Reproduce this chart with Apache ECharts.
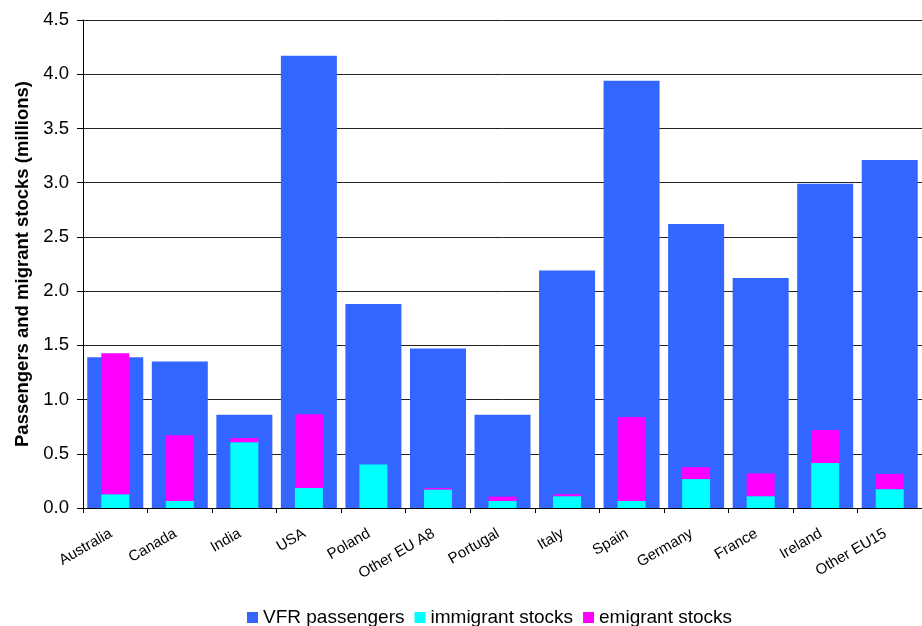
<!DOCTYPE html>
<html>
<head>
<meta charset="utf-8">
<script src="https://cdn.jsdelivr.net/npm/echarts@6/dist/echarts.min.js"></script>
<style>
  html, body { margin: 0; padding: 0; background: #fff; }
  #chart { width: 922px; height: 626px; }
</style>
</head>
<body>
<div id="chart"></div>
<script>
// Countries / regions on the category axis
const categories = ['Australia', 'Canada', 'India', 'USA', 'Poland', 'Other EU A8',
  'Portugal', 'Italy', 'Spain', 'Germany', 'France', 'Ireland', 'Other EU15'];

// Visiting-friends-and-relatives passengers (millions)
const vfrPassengers = [1.39, 1.35, 0.86, 4.17, 1.88, 1.47, 0.86, 2.19, 3.94, 2.62, 2.12, 2.99, 3.21];

// Migrant stocks (millions), drawn stacked
const immigrantStocks = [0.127, 0.065, 0.607, 0.184, 0.40, 0.171, 0.065, 0.109, 0.065, 0.267, 0.109, 0.414, 0.174];
const emigrantStocks  = [1.30, 0.605, 0.038, 0.68, 0.0, 0.013, 0.04, 0.018, 0.773, 0.11, 0.21, 0.305, 0.14];

const FONT = '"Liberation Sans", Arial, Helvetica, sans-serif';

const chart = echarts.init(document.getElementById('chart'), null, { renderer: 'canvas' });

chart.setOption({
  backgroundColor: '#ffffff',
  animation: false,
  textStyle: { fontFamily: FONT, color: '#000' },
  grid: { left: 83, right: -7, top: 20, bottom: 118, containLabel: false },
  legend: {
    left: 247,
    top: 608,
    icon: 'rect',
    itemWidth: 11,
    itemHeight: 11,
    itemGap: 10,
    padding: 0,
    textStyle: { fontFamily: FONT, fontSize: 19, color: '#000' },
    data: ['VFR passengers', 'immigrant stocks', 'emigrant stocks']
  },
  xAxis: [
    {
      type: 'category',
      data: categories,
      axisLine: { show: true, lineStyle: { color: '#000', width: 1 } },
      axisTick: { show: true, length: 5, lineStyle: { color: '#000' } },
      axisLabel: {
        rotate: 30,
        margin: 22,
        fontFamily: FONT,
        fontSize: 15,
        color: '#000',
        padding: [0, 5, 0, 0],
        interval: 0
      },
      splitLine: { show: false }
    },
    {
      type: 'category',
      data: categories,
      show: false
    }
  ],
  yAxis: {
    type: 'value',
    min: 0,
    max: 4.5,
    interval: 0.5,
    name: 'Passengers and migrant stocks (millions)',
    nameLocation: 'middle',
    nameGap: 51,
    nameTextStyle: { fontFamily: FONT, fontSize: 18.5, fontWeight: 'bold', color: '#000' },
    axisLine: { show: true, lineStyle: { color: '#000', width: 1 } },
    axisTick: { show: true, length: 6, lineStyle: { color: '#000' } },
    axisLabel: {
      margin: 14,
      fontFamily: FONT,
      fontSize: 18.5,
      color: '#000',
      formatter: v => v.toFixed(1)
    },
    splitLine: { show: true, lineStyle: { color: '#222', width: 1 } }
  },
  series: [
    {
      name: 'VFR passengers',
      type: 'bar',
      xAxisIndex: 0,
      barWidth: 56,
      itemStyle: { color: '#3366ff' },
      data: vfrPassengers,
      z: 2
    },
    {
      name: 'immigrant stocks',
      type: 'bar',
      xAxisIndex: 1,
      stack: 'migrants',
      barWidth: 28,
      itemStyle: { color: '#00ffff' },
      data: immigrantStocks,
      z: 3
    },
    {
      name: 'emigrant stocks',
      type: 'bar',
      xAxisIndex: 1,
      stack: 'migrants',
      barWidth: 28,
      itemStyle: { color: '#ff00ff' },
      data: emigrantStocks,
      z: 3
    }
  ]
});
</script>
</body>
</html>
